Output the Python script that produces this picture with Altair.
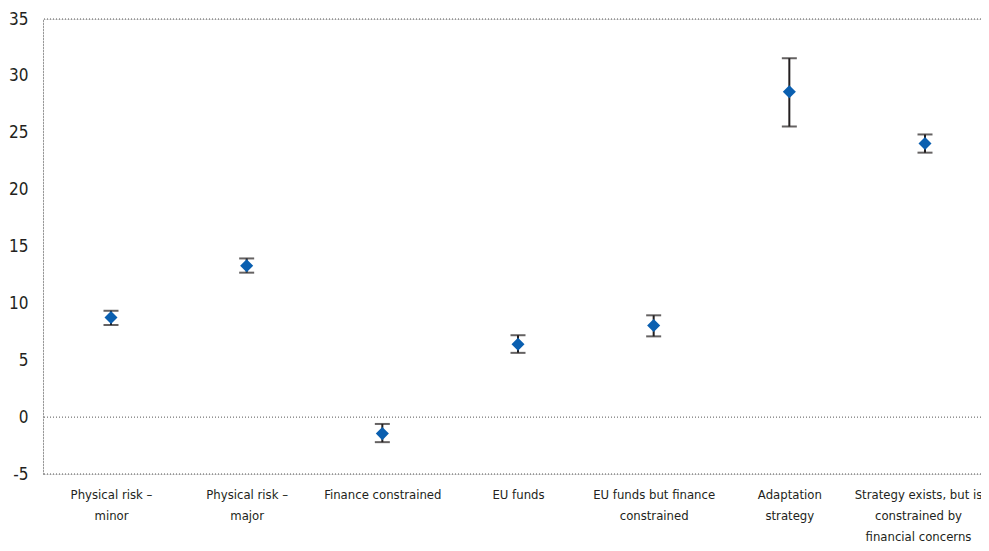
import altair as alt
import pandas as pd

categories = [
    "Physical risk –\nminor",
    "Physical risk –\nmajor",
    "Finance constrained",
    "EU funds",
    "EU funds but finance\nconstrained",
    "Adaptation\nstrategy",
    "Strategy exists, but is\nconstrained by\nfinancial concerns",
]
estimate = [8.75, 13.3, -1.45, 6.4, 8.05, 28.6, 24.05]
lower = [8.1, 12.7, -2.2, 5.65, 7.1, 25.55, 23.25]
upper = [9.35, 13.95, -0.6, 7.2, 8.95, 31.55, 24.85]
y_ticks = [-5, 0, 5, 10, 15, 20, 25, 30, 35]
ref_lines = [-5, 0, 35]

FONT = "DejaVu Sans Condensed, Liberation Sans Narrow, Roboto Condensed, Roboto"
df = pd.DataFrame({"cat": categories, "est": estimate, "lo": lower, "hi": upper})
refs = pd.DataFrame({"v": ref_lines})

x_enc = alt.X(
    "cat:N",
    sort=categories,
    scale=alt.Scale(type="point", range=[68, 882], padding=0),
    axis=alt.Axis(
        title=None, labelAngle=0, ticks=False, domain=False,
        labelExpr="split(datum.label, '\\n')",
        labelFontSize=13, labelLineHeight=21, labelPadding=14,
        labelColor="#231f20", labelFont=FONT, labelLimit=300,
        labelOffset={"condition": {"test": "indexof(datum.label, 'Strategy') >= 0", "value": -7}, "value": 0},
    ),
)
y_scale = alt.Scale(domain=[-5, 35], nice=False, zero=False)
y_axis = alt.Axis(
    title=None, values=y_ticks, ticks=False, grid=False,
    domain=True, domainDash=[1, 2], domainColor="#555555", domainWidth=1,
    labelExpr="datum.value + ''",
    labelFontSize=17, labelPadding=15, labelColor="#231f20", labelFont=FONT,
)

grid = alt.Chart(refs).mark_rule(
    color="#555555", strokeDash=[1, 2], strokeWidth=1
).encode(y=alt.Y("v:Q", scale=y_scale, axis=y_axis))

bars = alt.Chart(df).mark_rule(color="#231f20", strokeWidth=2).encode(
    x=x_enc,
    y=alt.Y("lo:Q", scale=y_scale, axis=y_axis),
    y2="hi:Q",
)
caps_lo = alt.Chart(df).mark_tick(color="#231f20", thickness=2, size=15).encode(
    x=x_enc, y=alt.Y("lo:Q", scale=y_scale, axis=y_axis)
)
caps_hi = alt.Chart(df).mark_tick(color="#231f20", thickness=2, size=15).encode(
    x=x_enc, y=alt.Y("hi:Q", scale=y_scale, axis=y_axis)
)
pts = alt.Chart(df).mark_point(
    shape="diamond", filled=True, size=170, color="#0a5fb0", opacity=1
).encode(x=x_enc, y=alt.Y("est:Q", scale=y_scale, axis=y_axis))

chart = alt.layer(grid, bars, caps_lo, caps_hi, pts).properties(
    width=938, height=455,
    autosize=alt.AutoSizeParams(type="none"),
    padding={"left": 35, "top": 11, "right": 0, "bottom": 69},
).configure_view(stroke=None).configure(font=FONT)

chart.save("out.html", embed_options={"renderer": "svg", "actions": False})
